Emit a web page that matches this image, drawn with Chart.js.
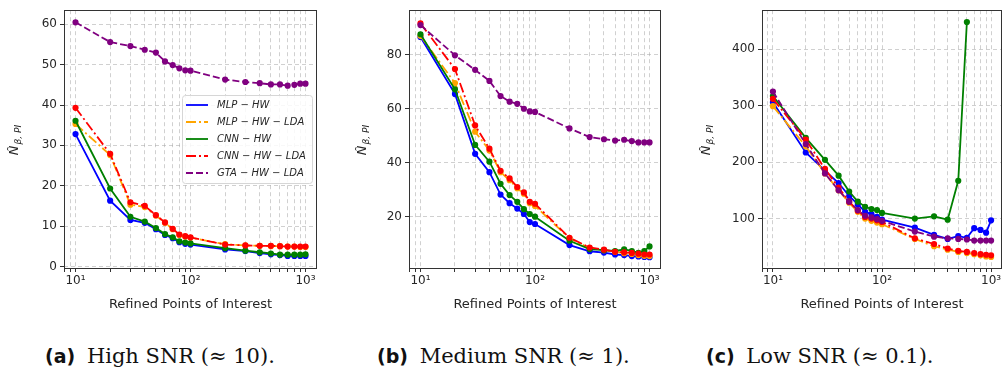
<!DOCTYPE html>
<html>
<head>
<meta charset="utf-8">
<script src="https://cdn.jsdelivr.net/npm/chart.js@4"></script>
<style>
  body { margin: 0; width: 1006px; height: 373px; background: #fff; position: relative; overflow: hidden; }
  .box { position: absolute; top: 0; height: 320px; }
  .cap { position: absolute; top: 344px; font-family: "DejaVu Serif", serif; font-size: 21px; color: #111; white-space: nowrap; }
  .cap b { font-family: "DejaVu Sans", sans-serif; font-size: 19px; margin-right: 5px; }
</style>
</head>
<body>
<div class="box" style="left:0;width:330px"><canvas id="high"></canvas></div>
<div class="box" style="left:330px;width:335px"><canvas id="medium"></canvas></div>
<div class="box" style="left:665px;width:341px"><canvas id="low"></canvas></div>
<div class="cap" style="left:45px"><b>(a)</b> High SNR (≈ 10).</div>
<div class="cap" style="left:377px"><b>(b)</b> Medium SNR (≈ 1).</div>
<div class="cap" style="left:706px"><b>(c)</b> Low SNR (≈ 0.1).</div>
<script>
// Refined points of interest (x axis)
const xValues = [10, 20, 30, 40, 50, 60, 70, 80, 90, 100, 200, 300, 400, 500, 600, 700, 800, 900, 1000];
const xGrid = [8, 9, 10, 20, 30, 40, 50, 60, 70, 80, 90, 100, 200, 300, 400, 500, 600, 700, 800, 900, 1000];
const xTickLabels = { 10: '10¹', 100: '10²', 1000: '10³' };
const seriesNames = ['MLP − HW', 'MLP − HW − LDA', 'CNN − HW', 'CNN − HW − LDA', 'GTA − HW − LDA'];

// (a) High SNR
const highMlpHw     = [32.8, 16.3, 11.5, 10.8, 9.2, 7.8, 7.0, 6.0, 5.6, 5.4, 4.2, 3.8, 3.3, 3.0, 2.8, 2.6, 2.6, 2.6, 2.6];
const highMlpHwLda  = [35.3, 27.6, 15.3, 14.7, 12.6, 10.8, 9.2, 7.8, 7.4, 7.1, 5.5, 5.2, 5.1, 5.0, 5.0, 4.9, 4.9, 4.8, 4.8];
const highCnnHw     = [36.1, 19.3, 12.3, 11.1, 9.5, 8.0, 7.2, 6.2, 5.9, 5.7, 4.5, 3.9, 3.5, 3.2, 2.9, 2.9, 2.9, 2.9, 3.0];
const highCnnHwLda  = [39.3, 27.9, 15.9, 15.0, 12.7, 10.9, 9.3, 7.9, 7.5, 7.2, 5.4, 5.2, 5.1, 5.1, 5.0, 4.9, 4.9, 4.9, 4.9];
const highGtaHwLda  = [60.5, 55.6, 54.6, 53.7, 53.0, 50.8, 49.9, 49.1, 48.6, 48.5, 46.3, 45.7, 45.4, 45.1, 45.1, 44.8, 45.0, 45.3, 45.3];

// (b) Medium SNR
const medMlpHw      = [86.6, 65.5, 43.3, 36.5, 28.2, 25.0, 23.0, 21.0, 18.0, 17.3, 9.5, 7.2, 6.7, 6.0, 5.8, 5.4, 5.3, 5.1, 5.0];
const medMlpHwLda   = [87.0, 69.5, 51.5, 44.5, 36.5, 33.5, 30.5, 28.5, 25.0, 24.0, 12.0, 8.3, 7.6, 7.0, 6.5, 6.2, 5.8, 5.5, 5.4];
const medCnnHw      = [87.6, 67.2, 46.6, 40.4, 32.2, 28.0, 25.5, 22.8, 21.0, 20.0, 11.1, 8.0, 7.6, 7.3, 7.9, 7.3, 6.6, 7.3, 9.0];
const medCnnHwLda   = [91.6, 74.7, 53.8, 45.2, 37.0, 34.2, 31.0, 29.0, 25.5, 24.8, 12.2, 8.6, 7.8, 7.0, 6.8, 6.6, 6.3, 6.0, 6.0];
const medGtaHwLda   = [91.0, 79.8, 74.4, 70.3, 64.7, 62.6, 61.8, 60.0, 59.0, 58.8, 52.7, 49.5, 48.7, 48.2, 48.5, 48.0, 47.5, 47.5, 47.5];

// (c) Low SNR
const lowMlpHw      = [306, 217, 185, 163, 140, 125, 112, 108, 103, 98, 84, 71, 64, 69, 66, 83, 80, 75, 97];
const lowMlpHwLda   = [299, 228, 180, 150, 128, 112, 100, 96, 93, 90, 64, 51, 45, 41, 39, 37, 35, 33, 32];
const lowCnnHw      = [317, 243, 204, 176, 148, 130, 121, 117, 115, 110, 100, 104, 98, 167, 448, null, null, null, null];
const lowCnnHwLda   = [312, 240, 188, 155, 130, 114, 103, 100, 97, 94, 65, 55, 47, 43, 41, 39, 37, 36, 35];
const lowGtaHwLda   = [325, 232, 180, 150, 130, 115, 105, 102, 99, 96, 77, 68, 65, 64, 63, 61, 61, 61, 61];

const styles = [
  { color: '#0000ff', dash: [] },
  { color: '#ffa500', dash: [10, 3, 2, 3] },
  { color: '#008000', dash: [] },
  { color: '#ff0000', dash: [10, 3, 2, 3] },
  { color: '#800080', dash: [7, 3] }
];

function makeDatasets(series) {
  return series.map((vals, i) => ({
    label: seriesNames[i],
    data: xValues.map((x, j) => ({ x: x, y: vals[j] })),
    borderColor: styles[i].color,
    backgroundColor: styles[i].color,
    borderDash: styles[i].dash,
    borderWidth: 1.8,
    pointRadius: 2.2,
    pointHoverRadius: 2.2,
    spanGaps: false,
    order: 4 - i
  }));
}

// frame, axis titles and legend drawn on the canvas
const deco = {
  id: 'deco',
  afterDraw(chart, args, opts) {
    const { ctx, chartArea: a } = chart;
    ctx.save();
    ctx.strokeStyle = '#333';
    ctx.lineWidth = 1;
    ctx.setLineDash([]);
    ctx.strokeRect(Math.round(a.left) + 0.5, Math.round(a.top) + 0.5, Math.round(a.right - a.left) - 1, Math.round(a.bottom - a.top));

    ctx.fillStyle = '#262626';
    ctx.textBaseline = 'middle';
    ctx.textAlign = 'center';
    ctx.font = '13px "DejaVu Sans"';
    ctx.fillText('Refined Points of Interest', (a.left + a.right) / 2, 305);

    // y title: N-hat with subscript beta, PI
    ctx.translate(opts.yTitleX, 140);
    ctx.rotate(-Math.PI / 2);
    ctx.textAlign = 'left';
    ctx.font = 'italic 13px "DejaVu Sans"';
    const main = 'N̂';
    const wMain = ctx.measureText(main).width;
    ctx.font = 'italic 9px "DejaVu Sans"';
    const sub = 'β, PI';
    const wSub = ctx.measureText(sub).width;
    const x0 = -(wMain + wSub + 1) / 2;
    ctx.font = 'italic 13px "DejaVu Sans"';
    ctx.fillText(main, x0, 0);
    ctx.font = 'italic 9px "DejaVu Sans"';
    ctx.fillText(sub, x0 + wMain + 1, 4);
    ctx.restore();

    if (opts.legend) {
      ctx.save();
      const lx = 182, ly = 95, lw = 130, lh = 88;
      ctx.fillStyle = 'rgba(255,255,255,0.85)';
      ctx.strokeStyle = '#d6d6d6';
      ctx.lineWidth = 1;
      ctx.beginPath();
      ctx.roundRect(lx + 0.5, ly + 0.5, lw, lh, 3);
      ctx.fill();
      ctx.stroke();
      ctx.font = 'italic 10px "DejaVu Sans"';
      ctx.textBaseline = 'middle';
      ctx.textAlign = 'left';
      seriesNames.forEach((name, i) => {
        const y = 105 + i * 17;
        ctx.strokeStyle = styles[i].color;
        ctx.lineWidth = 1.8;
        ctx.setLineDash(styles[i].dash);
        ctx.beginPath();
        ctx.moveTo(186, y);
        ctx.lineTo(208, y);
        ctx.stroke();
        ctx.fillStyle = '#262626';
        ctx.fillText(name, 217, y);
      });
      ctx.restore();
    }
  }
};

function createChart(id, series, yMin, yMax, yTicks, padRight, yWidth, yTitleX, legend) {
  new Chart(document.getElementById(id), {
    type: 'line',
    data: { datasets: makeDatasets(series) },
    options: {
      responsive: true,
      maintainAspectRatio: false,
      animation: false,
      layout: { padding: { top: 6, right: padRight, left: 0, bottom: 0 } },
      plugins: {
        legend: { display: false },
        tooltip: { enabled: false },
        deco: { yTitleX: yTitleX, legend: legend }
      },
      scales: {
        x: {
          type: 'logarithmic',
          min: 7.94,
          max: 1259,
          afterBuildTicks: s => { s.ticks = xGrid.map(v => ({ value: v, major: v in xTickLabels })); },
          afterFit: s => { s.height = 52; },
          ticks: {
            autoSkip: false,
            maxRotation: 0,
            padding: 2,
            color: '#262626',
            font: { family: 'DejaVu Sans', size: 12 },
            callback: v => xTickLabels[v] || ''
          },
          grid: { color: 'rgba(170,170,170,0.55)', tickColor: '#333', tickLength: 4, tickBorderDash: [] },
          border: { display: false, dash: [4, 3] }
        },
        y: {
          type: 'linear',
          min: yMin,
          max: yMax,
          afterBuildTicks: s => { s.ticks = yTicks.map(v => ({ value: v })); },
          afterFit: s => { s.width = yWidth; },
          ticks: {
            padding: 3,
            color: '#262626',
            font: { family: 'DejaVu Sans', size: 12 }
          },
          grid: { color: 'rgba(170,170,170,0.55)', tickColor: '#333', tickLength: 4, tickBorderDash: [] },
          border: { display: false, dash: [4, 3] }
        }
      }
    },
    plugins: [deco]
  });
}

createChart('high', [highMlpHw, highMlpHwLda, highCnnHw, highCnnHwLda, highGtaHwLda],
  -0.4, 63.5, [0, 10, 20, 30, 40, 50, 60], 13, 64, 15, true);
createChart('medium', [medMlpHw, medMlpHwLda, medCnnHw, medCnnHwLda, medGtaHwLda],
  1.0, 96.5, [20, 40, 60, 80], 4, 79, 33, false);
createChart('low', [lowMlpHw, lowMlpHwLda, lowCnnHw, lowCnnHwLda, lowGtaHwLda],
  12.5, 469, [100, 200, 300, 400], 2, 97, 42, false);
</script>
</body>
</html>
